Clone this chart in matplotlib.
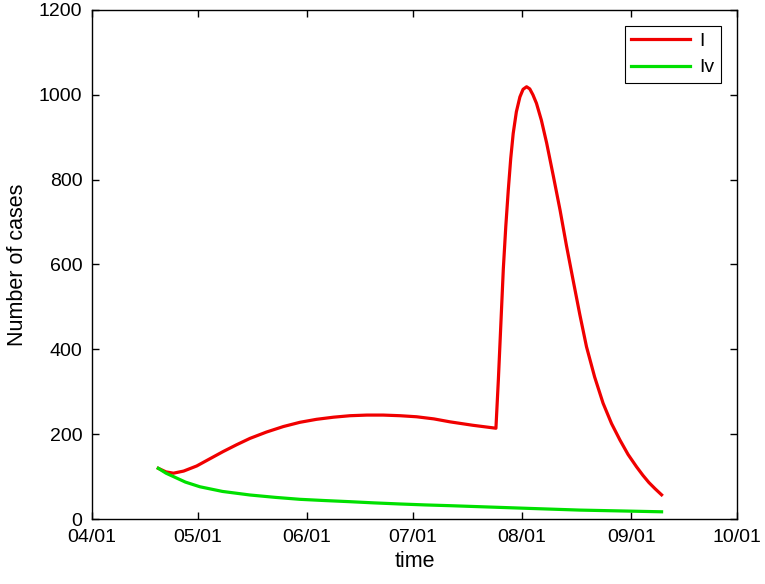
import numpy as np
import matplotlib
matplotlib.use("Agg")
import matplotlib.pyplot as plt
import matplotlib.dates as mdates

plt.rcParams["font.family"] = ["Liberation Sans", "DejaVu Sans"]

START = np.datetime64("2021-04-01")

# days after 04/01 and case counts
i_days = [18.8, 21.0, 23.1, 26.0, 29.7, 33.0, 37.2, 41.0, 44.8, 49.5, 54.3, 59.0,
          63.7, 68.5, 73.2, 78.0, 82.6, 87.4, 92.1, 97.0, 101.6, 108.0, 114.6,
          115.3, 116.0, 116.7, 117.4, 118.1, 118.8, 119.5, 120.4, 121.4,
          122.3, 123.3, 124.2, 125.1, 126.1, 127.5, 129.0, 130.9, 132.8, 134.6,
          136.5, 138.4, 140.3, 142.6, 145.0, 147.4, 149.8, 152.1, 154.5, 156.3,
          158.0, 159.8, 161.6]
i_vals = [119.5, 111, 108, 113, 125, 140, 159, 175, 190, 205, 218, 228,
          235, 240, 243.5, 245, 245, 243.5, 241, 236, 229, 221, 214,
          330, 460, 590, 690, 775, 850, 909, 960, 995,
          1013, 1019, 1014, 1000, 980, 940, 886, 808, 728, 645,
          563, 482, 406, 335, 273, 225, 186, 152, 123, 103,
          86, 71, 57]

iv_days = [18.8, 21.0, 23.1, 26.5, 30.6, 37.0, 44.8, 52.0, 59.0, 66.0, 73.2,
           80.0, 87.4, 94.5, 101.6, 110.0, 124.0, 138.4, 150.0, 161.6]
iv_vals = [119.5, 108, 100, 87, 76, 65, 56.6, 51, 46.4, 43.5, 40.8,
           38, 35.4, 33.2, 31.4, 29, 25, 21, 19, 17]


def to_dates(days):
    return START + (np.array(days) * 24 * 3600).astype("timedelta64[s]")


fig = plt.figure(figsize=(7.65, 5.84), dpi=100)
ax = fig.add_axes([0.1203, 0.1113, 0.8431, 0.8716])

ax.plot(to_dates(i_days), i_vals, color="#f00000", linewidth=2.3, label="I",
        solid_joinstyle="round")
ax.plot(to_dates(iv_days), iv_vals, color="#00e000", linewidth=2.3, label="Iv",
        solid_joinstyle="round")

ax.set_xlim(np.datetime64("2021-04-01"), np.datetime64("2021-10-01"))
ax.set_ylim(0, 1200)
ax.set_yticks(np.arange(0, 1201, 200))
ax.xaxis.set_major_locator(mdates.MonthLocator())
ax.xaxis.set_major_formatter(mdates.DateFormatter("%m/%d"))

ax.tick_params(direction="in", top=True, right=True, length=5, width=1,
               labelsize=14, pad=7)
for s in ax.spines.values():
    s.set_linewidth(1)

ax.set_xlabel("time", fontsize=15.5, labelpad=4)
ax.set_ylabel("Number of cases", fontsize=15.5, labelpad=8)

leg = ax.legend(loc="upper right", fontsize=14, fancybox=False, framealpha=1,
                edgecolor="black", handlelength=3.0, borderaxespad=0.8,
                handletextpad=0.5, labelspacing=0.45, borderpad=0.35)
leg.get_frame().set_linewidth(0.8)

fig.savefig("out.png", dpi=100)
